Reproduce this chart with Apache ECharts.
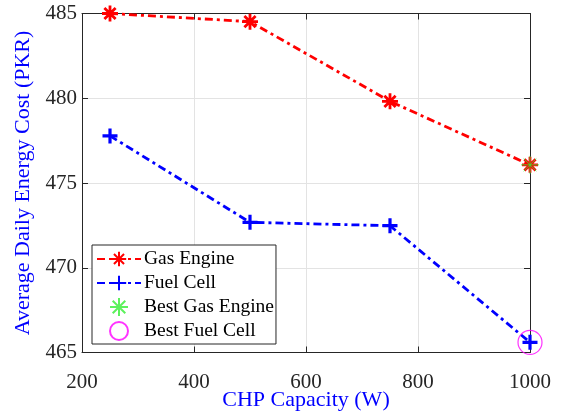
<!DOCTYPE html>
<html><head><meta charset="utf-8">
<script src="https://cdn.jsdelivr.net/npm/echarts@6/dist/echarts.min.js"></script>
<style>html,body{margin:0;padding:0;background:#fff}#c{width:562px;height:416px}</style>
</head><body><div id="c"></div>
<script>
const capacities = [250, 500, 750, 1000];
const gasEngine = [485.0, 484.52, 479.82, 476.07];
const fuelCell = [477.78, 472.68, 472.48, 465.6];
const bestGas = [[1000, 476.07]];
const bestFuel = [[1000, 465.6]];
const xTicks = [200, 400, 600, 800, 1000];
const yTicks = [465, 470, 475, 480, 485];

const asterisk = 'path://M10,0 L10,20 M0,10 L20,10 M3,3 L17,17 M17,3 L3,17';
const plus = 'path://M10,0 L10,20 M0,10 L20,10';
const font = 'Liberation Serif';
const axisCol = '#262626';

const chart = echarts.init(document.getElementById('c'), null, {renderer: 'canvas'});
const baseX = {
  type: 'value', min: xTicks[0], max: xTicks[xTicks.length - 1], interval: 200,
  axisLine: {show: true, onZero: false, lineStyle: {color: axisCol, width: 1}},
  axisTick: {show: true, inside: true, length: 6, lineStyle: {color: axisCol}},
};
const baseY = {
  type: 'value', min: yTicks[0], max: yTicks[yTicks.length - 1], interval: 5,
  axisLine: {show: true, onZero: false, lineStyle: {color: axisCol, width: 1}},
  axisTick: {show: true, inside: true, length: 6, lineStyle: {color: axisCol}},
};
chart.setOption({
  animation: false,
  grid: {left: 82, right: 32, top: 13.5, bottom: 63.5, containLabel: false, outerBoundsMode: 'none'},
  xAxis: [
    Object.assign({}, baseX, {
      position: 'bottom',
      name: 'CHP Capacity (W)', nameLocation: 'middle', nameGap: 37, nameMoveOverlap: false,
      nameTextStyle: {color: '#0000ff', fontFamily: font, fontSize: 22},
      axisLabel: {color: axisCol, fontFamily: font, fontSize: 21, margin: 19, formatter: v => String(v)},
      splitLine: {show: true, lineStyle: {color: '#e3e3e3', width: 1}}
    }),
    Object.assign({}, baseX, {
      position: 'top', axisLabel: {show: false}, splitLine: {show: false}
    })
  ],
  yAxis: [
    Object.assign({}, baseY, {
      position: 'left',
      name: 'Average Daily Energy Cost (PKR)', nameLocation: 'middle', nameGap: 48,
      nameTextStyle: {color: '#0000ff', fontFamily: font, fontSize: 22},
      axisLabel: {color: axisCol, fontFamily: font, fontSize: 21, margin: 5, formatter: v => String(v)},
      splitLine: {show: true, lineStyle: {color: '#e3e3e3', width: 1}}
    }),
    Object.assign({}, baseY, {
      position: 'right', axisLabel: {show: false}, splitLine: {show: false}
    })
  ],
  legend: {
    orient: 'vertical', left: 92, top: 245,
    backgroundColor: '#fff', borderColor: '#262626', borderWidth: 1, borderRadius: 0,
    padding: [4, 2, 3, 4], itemGap: 4, itemWidth: 44, itemHeight: 18,
    textStyle: {fontFamily: font, fontSize: 19.5, color: '#000', padding: [0, 0, 0, -2]},
    data: ['Gas Engine', 'Fuel Cell', 'Best Gas Engine', 'Best Fuel Cell']
  },
  series: [
    {
      name: 'Gas Engine', type: 'line',
      data: capacities.map((c, i) => [c, gasEngine[i]]),
      symbol: asterisk, symbolSize: 16, showAllSymbol: true,
      lineStyle: {color: '#ff0000', width: 2.8, type: [8, 4, 3, 4]},
      itemStyle: {color: '#ff0000', borderColor: '#ff0000', borderWidth: 2.8},
      z: 3
    },
    {
      name: 'Fuel Cell', type: 'line',
      data: capacities.map((c, i) => [c, fuelCell[i]]),
      symbol: plus, symbolSize: 15,
      lineStyle: {color: '#0000ff', width: 2.8, type: [8, 4, 3, 4]},
      itemStyle: {color: '#0000ff', borderColor: '#0000ff', borderWidth: 3.2},
      z: 3
    },
    {
      name: 'Best Gas Engine', type: 'scatter', data: bestGas,
      symbol: asterisk, symbolSize: 18,
      itemStyle: {color: 'rgba(0,0,0,0)', borderColor: '#33ee33', borderWidth: 1},
      z: 4
    },
    {
      name: 'Best Fuel Cell', type: 'scatter', data: bestFuel,
      symbol: 'circle', symbolSize: 24,
      itemStyle: {color: 'rgba(0,0,0,0)', borderColor: '#ff00ff', borderWidth: 1.2},
      z: 4
    }
  ]
});
</script></body></html>
